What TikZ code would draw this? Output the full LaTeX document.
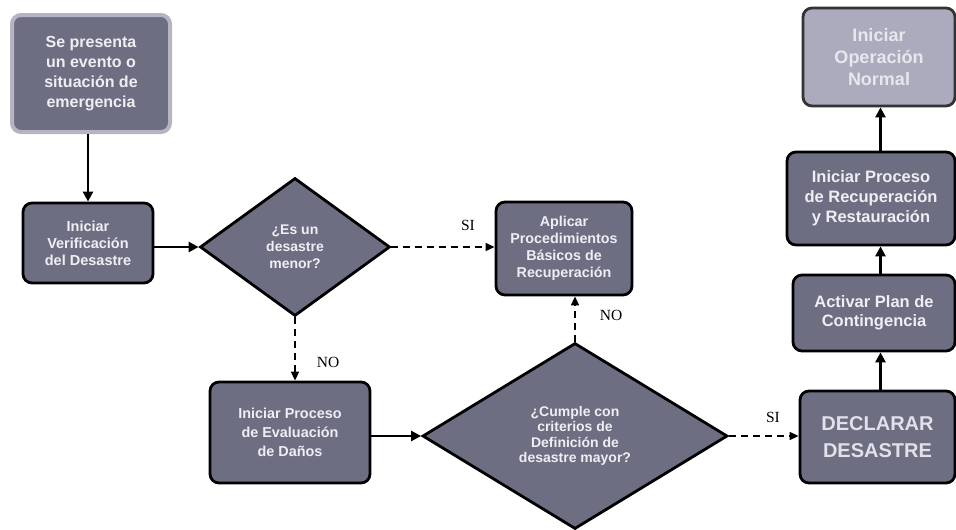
\documentclass[tikz,border=0pt]{standalone}
\usepackage{fontspec}
\setmainfont{Liberation Serif}
\setsansfont{Liberation Sans}
\usetikzlibrary{shapes.geometric,arrows.meta}

\definecolor{cajagris}{HTML}{6E6E82}
\definecolor{cajaclara}{HTML}{ABABBD}
\definecolor{textoclaro}{HTML}{EEEEF4}
\definecolor{bordeclaro}{HTML}{B4B4C2}

\newcommand{\tam}[2]{\fontsize{#1}{#2}\selectfont}

\tikzset{
  proceso/.style={rectangle,rounded corners=9pt,draw=black,line width=2.8pt,
    fill=cajagris,text=textoclaro,align=center,inner sep=0pt},
  decision/.style={diamond,draw=black,line width=2.8pt,fill=cajagris,
    text=textoclaro,align=center,inner sep=0pt},
  flecha/.style={line width=2.8pt,-{Triangle[length=10pt,width=10pt]}},
  flechapunteada/.style={line width=1.6pt,dash pattern=on 7pt off 5pt,
    -{Triangle[length=9pt,width=8pt]}},
  etiqueta/.style={font=\tam{15.5}{18}},
}

\begin{document}
\begin{tikzpicture}[x=1pt,y=-1pt]
  \useasboundingbox (0,0) rectangle (956,530);

  % columna izquierda
  \node[proceso,draw=bordeclaro,line width=4pt,minimum width=158pt,minimum height=117pt,
    font=\sffamily\bfseries\tam{16}{20}] (evento) at (91,73.5)
    {Se presenta\\un evento o\\situación de\\emergencia};
  \node[proceso,minimum width=130pt,minimum height=80pt,
    font=\sffamily\bfseries\tam{14.5}{17}] (verif) at (88,243)
    {Iniciar\\Verificación\\del Desastre};

  % decisiones
  \node[decision,minimum width=190pt,minimum height=138pt,
    font=\sffamily\bfseries\tam{14}{17}] (menor) at (295,247)
    {¿Es un\\desastre\\menor?};
  \node[decision,minimum width=305pt,minimum height=186pt,
    font=\sffamily\bfseries\tam{14}{15.5}] (mayor) at (575,436)
    {¿Cumple con\\criterios de\\Definición de\\desastre mayor?};

  % centro
  \node[proceso,minimum width=136pt,minimum height=93pt,
    font=\sffamily\bfseries\tam{14.3}{17}] (basicos) at (564,248.5)
    {Aplicar\\Procedimientos\\Básicos de\\Recuperación};
  \node[proceso,minimum width=160pt,minimum height=101pt,
    font=\sffamily\bfseries\tam{14.4}{19}] (evaluacion) at (290,432.5)
    {Iniciar Proceso\\de Evaluación\\de Daños};

  % columna derecha
  \node[proceso,minimum width=155pt,minimum height=92pt,text=textoclaro!90!cajagris,
    font=\sffamily\bfseries\tam{20}{27}] (declarar) at (877.5,437)
    {DECLARAR\\DESASTRE};
  \node[proceso,minimum width=162pt,minimum height=76pt,
    font=\sffamily\bfseries\tam{16.5}{19}] (activar) at (874,313)
    {Activar Plan de\\Contingencia};
  \node[proceso,minimum width=168pt,minimum height=93pt,
    font=\sffamily\bfseries\tam{16.5}{20}] (recuperacion) at (871,198.5)
    {Iniciar Proceso\\de Recuperación\\y Restauración};
  \node[proceso,draw=black!80,fill=cajaclara,text=textoclaro!90!cajaclara,
    minimum width=152pt,minimum height=98pt,
    font=\sffamily\bfseries\tam{18}{22}] (normal) at (879,57)
    {Iniciar\\Operación\\Normal};

  % conectores
  \draw[flecha] (verif.north |- evento.south) -- (verif.north);
  \draw[flecha] (verif.east |- menor.west) -- (menor.west);
  \draw[flechapunteada] (menor.east) -- (menor.east -| basicos.west);
  \draw[flechapunteada] (menor.south) -- (menor.south |- evaluacion.north);
  \draw[flecha] (evaluacion.east |- mayor.west) -- (mayor.west);
  \draw[flechapunteada] (mayor.north) -- (mayor.north |- basicos.south);
  \draw[flechapunteada] (mayor.east) -- (mayor.east -| declarar.west);
  \draw[flecha] (declarar.north) ++(3,0) coordinate (dn) -- (dn |- activar.south);
  \draw[flecha] (dn |- activar.north) -- (dn |- recuperacion.south);
  \draw[flecha] (dn |- recuperacion.north) -- (dn |- normal.south);

  % etiquetas
  \node[etiqueta] (si1) at (468,225) {SI};
  \node[etiqueta] (no1) at (611,315) {NO};
  \node[etiqueta] (no2) at (328,362) {NO};
  \node[etiqueta] (si2) at (773,417) {SI};
\end{tikzpicture}
\end{document}
